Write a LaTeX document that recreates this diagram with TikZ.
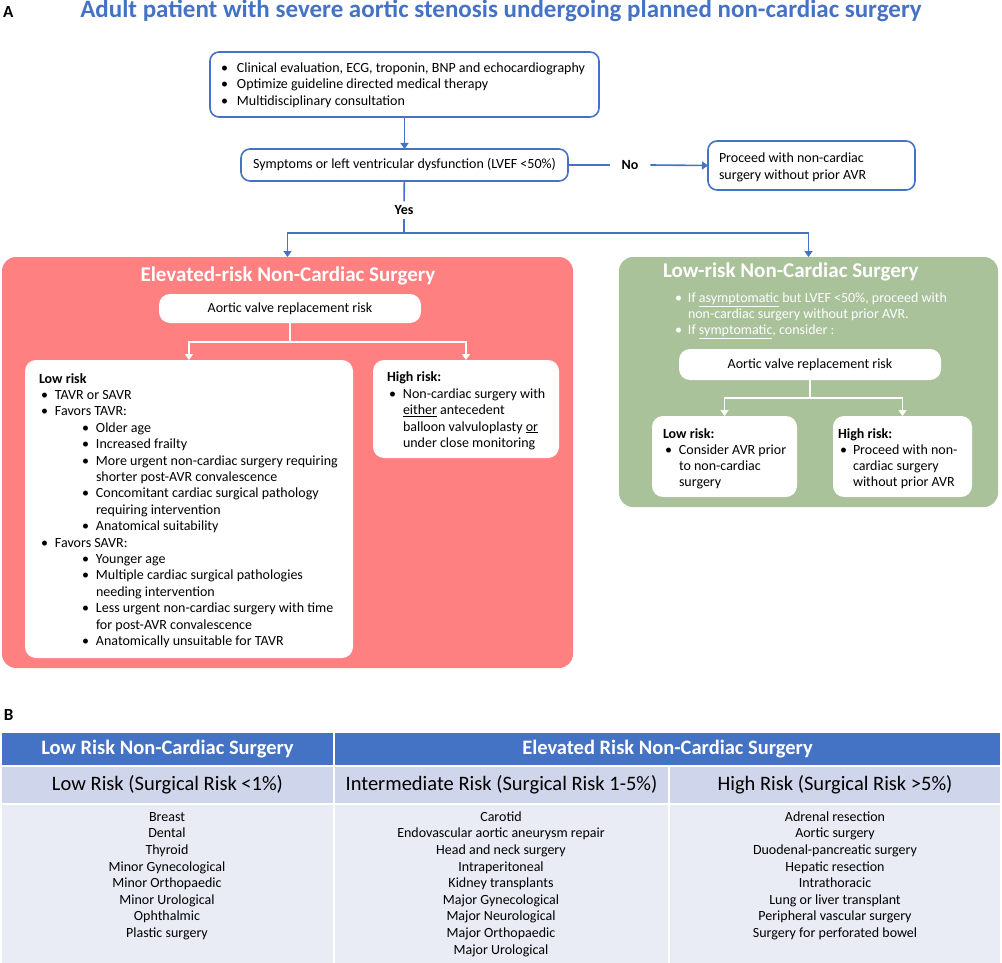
\documentclass[tikz,border=0pt]{standalone}
\usepackage{fontspec}
\setmainfont{Carlito}
\usetikzlibrary{arrows.meta,positioning}

\definecolor{flowblue}{RGB}{68,114,196}
\definecolor{elevred}{RGB}{255,128,128}
\definecolor{lowgreen}{RGB}{169,194,154}
\definecolor{rowmid}{RGB}{207,213,234}
\definecolor{rowlight}{RGB}{233,235,245}

\newcommand{\dotitem}[1][14pt]{\hspace*{2pt}\makebox[#1][l]{\textbullet}}
\newcommand{\itemcont}[1][14pt]{\hspace*{\dimexpr#1+2pt\relax}}
\newcommand{\subdot}{\hspace*{43pt}\makebox[14pt][l]{\textbullet}}
\newcommand{\subcont}{\hspace*{57pt}}

\begin{document}
\begin{tikzpicture}[x=1pt,y=-1pt,
    >={Triangle[width=8pt,length=6pt]},
    every node/.style={inner sep=0pt,outer sep=0pt},
    flowbox/.style={draw=flowblue,line width=1.6pt,rounded corners=9pt,fill=white,anchor=north west},
    flowline/.style={draw=flowblue,line width=1.6pt},
    panel/.style={rounded corners=14pt,anchor=north west},
    whitebox/.style={fill=white,rounded corners=11pt,anchor=north west},
    whiteline/.style={draw=white,line width=1.6pt},
    bodytext/.style={font=\fontsize{14}{16.4}\selectfont,align=left,anchor=base west},
    decision/.style={font=\fontsize{14}{16}\selectfont\bfseries,inner xsep=12pt,inner ysep=4pt},
    paneltitle/.style={font=\fontsize{21}{24}\selectfont\bfseries,text=white,anchor=base},
    cell/.style={anchor=north west},
    itemlist/.style={font=\fontsize{14}{16.6}\selectfont,align=center,anchor=base}]

  \useasboundingbox (0,0) rectangle (1002,963);

  % part A: flow chart
  \node[font=\fontsize{17}{20}\selectfont\bfseries,anchor=base west] (labA) at (3,18) {A};
  \node[font=\fontsize{25}{28}\selectfont\bfseries,text=flowblue,anchor=base] (title) at (501,17.5)
    {Adult patient with severe aortic stenosis undergoing planned non-cardiac surgery};

  \node[flowbox,minimum width=389,minimum height=65] (workup) at (210,52) {};
  \node[bodytext,font=\fontsize{14}{16.5}\selectfont] (workuptext) at (219,105.5)
    {\dotitem[16pt]Clinical evaluation, ECG, troponin, BNP and echocardiography\\
     \dotitem[16pt]Optimize guideline directed medical therapy\\
     \dotitem[16pt]Multidisciplinary consultation};

  \node[flowbox,minimum width=327,minimum height=32,font=\fontsize{14}{16}\selectfont] (symptom) at (241,149)
    {Symptoms or left ventricular dysfunction (LVEF <50\%)};
  \node[decision] (no) at (630,165) {No};
  \node[flowbox,minimum width=207,minimum height=49] (proceed) at (708,141) {};
  \node[bodytext,font=\fontsize{14}{17}\selectfont] (proceedtext) at (719,179.5)
    {Proceed with non-cardiac\\ surgery without prior AVR};
  \node[decision] (yes) at (404,210) {Yes};
  \coordinate (fork) at (404,233);

  \draw[flowline,->] (workup) -- (symptom);
  \draw[flowline] (symptom.east) -- (no.west);
  \draw[flowline,->] (no.east) -- (proceed.west);
  \draw[flowline] (symptom) -- (yes);
  \draw[flowline] (yes) -- (fork);

  % elevated-risk panel
  \node[panel,fill=elevred,minimum width=571,minimum height=411] (elev) at (2,257) {};
  \node[paneltitle] (elevtitle) at (288,281) {Elevated-risk Non-Cardiac Surgery};
  \node[whitebox,minimum width=262,minimum height=29,font=\fontsize{14}{16}\selectfont] (avrA) at (159,294)
    {Aortic valve replacement risk};
  \node[whitebox,minimum width=328,minimum height=298] (lowA) at (25,360) {};
  \node[whitebox,minimum width=186,minimum height=98] (highA) at (373,360) {};
  \draw[whiteline,->] (avrA.south) -- ++(0,19) -| (lowA.north);
  \draw[whiteline,->] (avrA.south) -- ++(0,19) -| (highA.north);

  \node[bodytext] (lowAtext) at (39,645.5)
    {\textbf{Low risk}\\
     \dotitem TAVR or SAVR\\
     \dotitem Favors TAVR:\\
     \subdot Older age\\
     \subdot Increased frailty\\
     \subdot More urgent non-cardiac surgery requiring\\
     \subcont shorter post-AVR convalescence\\
     \subdot Concomitant cardiac surgical pathology\\
     \subcont requiring intervention\\
     \subdot Anatomical suitability\\
     \dotitem Favors SAVR:\\
     \subdot Younger age\\
     \subdot Multiple cardiac surgical pathologies\\
     \subcont needing intervention\\
     \subdot Less urgent non-cardiac surgery with time\\
     \subcont for post-AVR convalescence\\
     \subdot Anatomically unsuitable for TAVR};
  \node[bodytext] (highAtext) at (387,447.5)
    {\textbf{High risk:}\\
     \dotitem[14pt]Non-cardiac surgery with\\
     \itemcont[14pt]\underline{either} antecedent\\
     \itemcont[14pt]balloon valvuloplasty \underline{or}\\
     \itemcont[14pt]under close monitoring};

  % low-risk panel
  \node[panel,fill=lowgreen,minimum width=379,minimum height=250] (lowp) at (619,257) {};
  \node[paneltitle,anchor=base west] (lowptitle) at (663,277) {Low-risk Non-Cardiac Surgery};
  \node[bodytext,text=white,font=\fontsize{14}{16}\selectfont] (lowptext) at (673,334.5)
    {\dotitem[13pt]If \underline{asymptomatic} but LVEF <50\%, proceed with\\
     \itemcont[13pt]non-cardiac surgery without prior AVR.\\
     \dotitem[13pt]If \underline{symptomatic}, consider :};
  \node[whitebox,minimum width=262,minimum height=31,font=\fontsize{14}{16}\selectfont] (avrB) at (679,349)
    {Aortic valve replacement risk};
  \node[whitebox,minimum width=145,minimum height=81] (lowB) at (652,416) {};
  \node[whitebox,minimum width=139,minimum height=81] (highB) at (833,416) {};
  \draw[whiteline,->] (avrB.south) -- ++(0,18) -| (lowB.north);
  \draw[whiteline,->] (avrB.south) -- ++(0,18) -| (highB.north);

  \node[bodytext,font=\fontsize{14}{16}\selectfont] (lowBtext) at (663,486.5)
    {\textbf{Low risk:}\\
     \dotitem[14pt]Consider AVR prior\\
     \itemcont[14pt]to non-cardiac\\
     \itemcont[14pt]surgery};
  \node[bodytext,font=\fontsize{14}{16}\selectfont] (highBtext) at (838,486.5)
    {\textbf{High risk:}\\
     \dotitem[13pt]Proceed with non-\\
     \itemcont[13pt]cardiac surgery\\
     \itemcont[13pt]without prior AVR};

  \draw[flowline,->] (fork) -| (elev.north);
  \draw[flowline,->] (fork) -| (lowp.north);

  % part B: table
  \node[font=\fontsize{17}{20}\selectfont\bfseries,anchor=base west] (labB) at (4,720) {B};

  \begin{scope}[every node/.append style={cell}]
    \node[fill=flowblue,minimum width=331,minimum height=32,text=white,font=\fontsize{20.5}{24}\selectfont\bfseries] (hdlow) at (2,733)
      {Low Risk Non-Cardiac Surgery};
    \node[fill=flowblue,minimum width=665,minimum height=32,text=white,font=\fontsize{20.5}{24}\selectfont\bfseries] (hdelev) at (335,733)
      {Elevated Risk Non-Cardiac Surgery};
    \node[fill=rowmid,minimum width=331,minimum height=36,font=\fontsize{20.5}{24}\selectfont] (risklow) at (2,767)
      {Low Risk (Surgical Risk <1\%)};
    \node[fill=rowmid,minimum width=333,minimum height=36,font=\fontsize{20.5}{24}\selectfont] (riskmid) at (335,767)
      {Intermediate Risk (Surgical Risk 1-5\%)};
    \node[fill=rowmid,minimum width=330,minimum height=36,font=\fontsize{20.5}{24}\selectfont] (riskhigh) at (670,767)
      {High Risk (Surgical Risk >5\%)};
    \node[fill=rowlight,minimum width=331,minimum height=158] (listlow) at (2,805) {};
    \node[fill=rowlight,minimum width=333,minimum height=158] (listmid) at (335,805) {};
    \node[fill=rowlight,minimum width=330,minimum height=158] (listhigh) at (670,805) {};
  \end{scope}

  \node[itemlist] (lowitems) at (167,937.5)
    {Breast\\ Dental\\ Thyroid\\ Minor Gynecological\\ Minor Orthopaedic\\ Minor Urological\\ Ophthalmic\\ Plastic surgery};
  \node[itemlist] (miditems) at (501,954)
    {Carotid\\ Endovascular aortic aneurysm repair\\ Head and neck surgery\\ Intraperitoneal\\ Kidney transplants\\
     Major Gynecological\\ Major Neurological\\ Major Orthopaedic\\ Major Urological};
  \node[itemlist] (highitems) at (835,937.5)
    {Adrenal resection\\ Aortic surgery\\ Duodenal-pancreatic surgery\\ Hepatic resection\\ Intrathoracic\\
     Lung or liver transplant\\ Peripheral vascular surgery\\ Surgery for perforated bowel};
\end{tikzpicture}
\end{document}
